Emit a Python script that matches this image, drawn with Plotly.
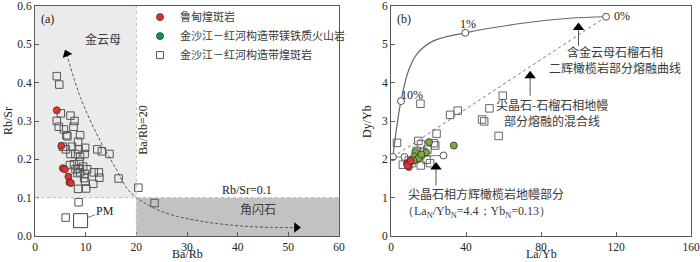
import plotly.graph_objects as go

# ---------- Panel (a) data ----------
a_sq_x = [4.3, 4.8, 4.3, 4.7, 5.1, 7.0, 7.8, 5.7, 7.6, 6.2, 6.4, 8.9, 8.5, 5.5, 6.1, 7.3, 8.6, 9.9,
          7.0, 7.96, 9.8, 8.9, 12.3, 13.2, 14.7, 8.75, 6.9, 7.7, 8.0, 8.6, 9.5, 10.3, 8.4, 8.9, 9.8,
          9.7, 9.9, 11.6, 12.6, 12.7, 11.5, 16.5, 8.5, 10.1, 20.4, 23.6, 8.6, 6.05]
a_sq_y = [0.417, 0.395, 0.300, 0.285, 0.320, 0.314, 0.300, 0.278, 0.285, 0.263, 0.260, 0.263, 0.246,
          0.233, 0.226, 0.233, 0.226, 0.230, 0.214, 0.214, 0.214, 0.207, 0.226, 0.221, 0.214, 0.193,
          0.185, 0.187, 0.174, 0.176, 0.181, 0.174, 0.164, 0.166, 0.162, 0.151, 0.142, 0.166, 0.166,
          0.152, 0.136, 0.150, 0.123, 0.124, 0.126, 0.086, 0.088, 0.048]
a_red_x = [4.3, 5.2, 5.5, 5.9, 6.6, 6.8, 7.1]
a_red_y = [0.328, 0.235, 0.177, 0.174, 0.155, 0.140, 0.138]
pm_x = [9.0]
pm_y = [0.040]
a_curve_x = [6.25, 9.0, 12.8, 16.0, 18.1, 19.7, 22.7, 27.0, 32.6, 39.0, 45.0, 51.6]
a_curve_y = [0.475, 0.36, 0.25, 0.175, 0.125, 0.104, 0.078, 0.055, 0.039, 0.028, 0.023, 0.022]

# ---------- Panel (b) data ----------
b_sq_x = [3.2, 15.7, 31.5, 35.6, 52.5, 59.6, 48.6, 49.7, 57.4, 24.3, 14.6, 16.0, 22.9, 23.6,
          6.3, 10.9, 15.9, 20.8, 19.0, 13.7, 17.3, 19.4, 13.7, 9.5]
b_sq_y = [2.43, 3.45, 3.16, 3.27, 3.33, 3.66, 3.04, 2.99, 2.61, 2.67, 2.48, 2.39, 2.42, 2.36,
          1.86, 1.90, 1.84, 1.90, 1.99, 2.10, 2.19, 2.25, 2.22, 1.97]
b_green_x = [20.3, 33.5, 13.0, 12.5, 13.7, 14.8, 18.7, 12.0, 16.2]
b_green_y = [2.45, 2.36, 2.19, 2.08, 1.99, 2.03, 2.18, 1.97, 2.13]
b_red_x = [8.5, 9.5, 10.2, 8.8, 10.6]
b_red_y = [1.89, 1.80, 1.93, 1.84, 1.96]
melt_x = [1.0, 2.8, 5.3, 9.3, 13.7, 22.6, 39.6, 70.0, 95.0, 114.7]
melt_y = [2.06, 2.75, 3.52, 4.31, 4.74, 5.09, 5.30, 5.55, 5.68, 5.72]
melt_pt_x = [114.7, 39.6, 5.3]
melt_pt_y = [5.72, 5.30, 3.52]
mix_x = [1.0, 114.7]
mix_y = [2.06, 5.72]
hz_x = [1.0, 7.2, 16.4, 28.0]
hz_y = [2.06, 2.06, 2.09, 2.10]

SERIF = "Liberation Serif, Times New Roman, serif"
CJK = "Noto Sans CJK SC"
FR = "#5a5a5a"
TXT = "#3a3a3a"

fig = go.Figure()

# Panel (a) traces
fig.add_trace(go.Scatter(x=a_curve_x, y=a_curve_y, mode="lines", line=dict(color="#555", width=1, dash="3px,2px", shape="spline"),
                         showlegend=False, hoverinfo="skip", xaxis="x", yaxis="y"))
fig.add_trace(go.Scatter(x=[a_curve_x[0]], y=[a_curve_y[0]], mode="markers",
                         marker=dict(symbol="triangle-up", size=9, color="black", angle=-22),
                         showlegend=False, xaxis="x", yaxis="y"))
fig.add_trace(go.Scatter(x=[a_curve_x[-1]], y=[a_curve_y[-1]], mode="markers",
                         marker=dict(symbol="triangle-right", size=9, color="black"),
                         showlegend=False, xaxis="x", yaxis="y"))
fig.add_trace(go.Scatter(x=a_sq_x, y=a_sq_y, mode="markers",
                         marker=dict(symbol="square-open", size=7.5, color="#555", line=dict(width=1)),
                         showlegend=False, xaxis="x", yaxis="y"))
fig.add_trace(go.Scatter(x=pm_x, y=pm_y, mode="markers",
                         marker=dict(symbol="square-open", size=14, color="#444", line=dict(width=1)),
                         showlegend=False, xaxis="x", yaxis="y"))
fig.add_trace(go.Scatter(x=a_red_x, y=a_red_y, mode="markers", name="鲁甸煌斑岩",
                         marker=dict(symbol="circle", size=7, color="#e8302a", line=dict(color="#333", width=0.8)),
                         legendrank=1, xaxis="x", yaxis="y"))
fig.add_trace(go.Scatter(x=[None], y=[None], mode="markers", name="金沙江－红河构造带镁铁质火山岩",
                         marker=dict(symbol="circle", size=7, color="#0a9a3c", line=dict(color="#333", width=0.8)),
                         legendrank=2, xaxis="x", yaxis="y"))
fig.add_trace(go.Scatter(x=[None], y=[None], mode="markers", name="金沙江－红河构造带煌斑岩",
                         marker=dict(symbol="square-open", size=7, color="#555", line=dict(width=1)),
                         legendrank=3, xaxis="x", yaxis="y"))

# Panel (b) traces
fig.add_trace(go.Scatter(x=mix_x, y=mix_y, mode="lines", line=dict(color="#777", width=1, dash="dot"),
                         showlegend=False, xaxis="x2", yaxis="y2"))
fig.add_trace(go.Scatter(x=melt_x, y=melt_y, mode="lines", line=dict(color="#666", width=1.2, shape="spline"),
                         showlegend=False, xaxis="x2", yaxis="y2"))
fig.add_trace(go.Scatter(x=hz_x, y=hz_y, mode="lines+markers", line=dict(color="#777", width=1),
                         marker=dict(symbol="circle", size=7, color="white", line=dict(color="#555", width=1)),
                         showlegend=False, xaxis="x2", yaxis="y2"))
fig.add_trace(go.Scatter(x=melt_pt_x, y=melt_pt_y, mode="markers",
                         marker=dict(symbol="circle", size=7, color="white", line=dict(color="#555", width=1)),
                         showlegend=False, xaxis="x2", yaxis="y2"))
fig.add_trace(go.Scatter(x=b_sq_x, y=b_sq_y, mode="markers",
                         marker=dict(symbol="square-open", size=7.5, color="#666", line=dict(width=1)),
                         showlegend=False, xaxis="x2", yaxis="y2"))
fig.add_trace(go.Scatter(x=b_green_x, y=b_green_y, mode="markers",
                         marker=dict(symbol="circle", size=7, color="#7aab3a", line=dict(color="#333", width=0.8)),
                         showlegend=False, xaxis="x2", yaxis="y2"))
fig.add_trace(go.Scatter(x=b_red_x, y=b_red_y, mode="markers",
                         marker=dict(symbol="circle", size=7, color="#e8302a", line=dict(color="#333", width=0.8)),
                         showlegend=False, xaxis="x2", yaxis="y2"))

# arrows in panel b
arrow_x = [100, 74.2, 24.0]
arrow_top = [5.44, 4.18, 1.80]
arrow_bot = [4.96, 3.66, 1.32]
for ax_, t_, b_ in zip(arrow_x, arrow_top, arrow_bot):
    fig.add_trace(go.Scatter(x=[ax_, ax_], y=[t_, b_], mode="lines", line=dict(color="#555", width=1),
                             showlegend=False, xaxis="x2", yaxis="y2"))
fig.add_trace(go.Scatter(x=arrow_x, y=arrow_top, mode="markers",
                         marker=dict(symbol="triangle-up", size=10, color="black"),
                         showlegend=False, xaxis="x2", yaxis="y2"))

shapes = [
    dict(type="rect", xref="x", yref="y", x0=0, x1=20, y0=0.1, y1=0.6, fillcolor="#ebebeb", line=dict(width=0), layer="below"),
    dict(type="rect", xref="x", yref="y", x0=20, x1=60, y0=0, y1=0.1, fillcolor="#c2c2c2", line=dict(width=0), layer="below"),
    dict(type="line", xref="x", yref="y", x0=20, x1=20, y0=0, y1=0.6, line=dict(color="#bbb", width=1, dash="dot")),
    dict(type="line", xref="x", yref="y", x0=0, x1=60, y0=0.1, y1=0.1, line=dict(color="#bbb", width=1, dash="dot")),
]

AX_FONT = dict(family=SERIF, size=12, color="#222")
ann = [
    # axis titles
    dict(x=(35 + 339) / 2 / 700, y=0, xref="paper", yref="paper", text="Ba/Rb", showarrow=False,
         xanchor="center", yanchor="bottom", yshift=-1, font=AX_FONT),
    dict(x=8 / 700, y=1 - 121 / 262, xref="paper", yref="paper", text="Rb/Sr", showarrow=False,
         xanchor="center", yanchor="middle", textangle=-90, font=AX_FONT),
    dict(x=(391 + 691) / 2 / 700, y=0, xref="paper", yref="paper", text="La/Yb", showarrow=False,
         xanchor="center", yanchor="bottom", yshift=-1, font=AX_FONT),
    dict(x=367 / 700, y=1 - 121 / 262, xref="paper", yref="paper", text="Dy/Yb", showarrow=False,
         xanchor="center", yanchor="middle", textangle=-90, font=AX_FONT),
    dict(x=0.8, y=0.59, xref="x", yref="y", text="(a)", showarrow=False, xanchor="left", yanchor="top",
         font=dict(family=SERIF, size=12, color="#222")),
    dict(x=13.5, y=0.516, xref="x", yref="y", text="金云母", showarrow=False, font=dict(family=CJK, size=12, color=TXT)),
    dict(x=21.4, y=0.276, xref="x", yref="y", text="Ba/Rb=20", showarrow=False, textangle=-90,
         font=dict(family=SERIF, size=12, color="#222")),
    dict(x=41.8, y=0.119, xref="x", yref="y", text="Rb/Sr=0.1", showarrow=False, font=dict(family=SERIF, size=12, color="#222")),
    dict(x=44, y=0.071, xref="x", yref="y", text="角闪石", showarrow=False, font=dict(family=CJK, size=12, color=TXT)),
    dict(x=10.2, y=0.047, xref="x", yref="y", text="PM", showarrow=True, arrowhead=0, arrowwidth=0.8, arrowcolor="#555",
         ax=13.9, ay=0.066, axref="x", ayref="y", standoff=0,
         font=dict(family=SERIF, size=12, color="#222")),
    # panel b
    dict(x=2, y=5.9, xref="x2", yref="y2", text="(b)", showarrow=False, xanchor="left", yanchor="top",
         font=dict(family=SERIF, size=12, color="#222")),
    dict(x=41, y=5.52, xref="x2", yref="y2", text="1%", showarrow=False, font=dict(family=SERIF, size=12, color="#222")),
    dict(x=11.3, y=3.68, xref="x2", yref="y2", text="10%", showarrow=False, font=dict(family=SERIF, size=12, color="#222")),
    dict(x=118, y=5.73, xref="x2", yref="y2", text="0%", showarrow=False, xanchor="left", font=dict(family=SERIF, size=12, color="#222")),
    dict(x=119.5, y=4.6, xref="x2", yref="y2", text="含金云母石榴石相<br>二辉橄榄岩部分熔融曲线", showarrow=False,
         font=dict(family=CJK, size=12, color=TXT)),
    dict(x=86, y=3.22, xref="x2", yref="y2", text="尖晶石-石榴石相地幔<br>部分熔融的混合线", showarrow=False,
         font=dict(family=CJK, size=12, color=TXT)),
    dict(x=50.7, y=1.1, xref="x2", yref="y2", text="尖晶石相方辉橄榄岩地幔部分", showarrow=False,
         font=dict(family=CJK, size=12, color=TXT)),
    dict(x=45.5, y=0.63, xref="x2", yref="y2",
         text="（La<sub>N</sub>/Yb<sub>N</sub>=4.4；Yb<sub>N</sub>=0.13）", showarrow=False,
         font=dict(family=SERIF, size=12, color=TXT)),
]

axis_common = dict(showgrid=False, zeroline=False, showline=True, linecolor=FR, linewidth=1, mirror=True,
                   ticks="inside", ticklen=4, tickcolor=FR, tickfont=dict(family=SERIF, size=11.5, color="#222"),
                   automargin=False, ticklabeloverflow="allow")

fig.update_layout(
    width=700, height=262,
    margin=dict(l=0, r=0, t=0, b=0),
    paper_bgcolor="white", plot_bgcolor="white",
    shapes=shapes, annotations=ann,
    xaxis=dict(domain=[35/700, 339/700], range=[0, 60], dtick=10, anchor="y", **axis_common),
    yaxis=dict(domain=[26/262, 256/262], range=[0, 0.6], dtick=0.1, tickformat=".1f", anchor="x", **axis_common),
    xaxis2=dict(domain=[391/700, 691/700], range=[0, 160], dtick=40, anchor="y2", **axis_common),
    yaxis2=dict(domain=[26/262, 256/262], range=[0, 6], dtick=1, anchor="x2", **axis_common),
    legend=dict(x=0.2, y=0.99, xanchor="left", yanchor="top", bgcolor="rgba(0,0,0,0)",
                font=dict(family=CJK, size=11, color=TXT), itemwidth=30, tracegroupgap=0,
                traceorder="normal"),
)

fig.write_html("out.html", config={"displayModeBar": False},
               post_script="document.body.style.margin='0';document.body.style.overflow='hidden';")
